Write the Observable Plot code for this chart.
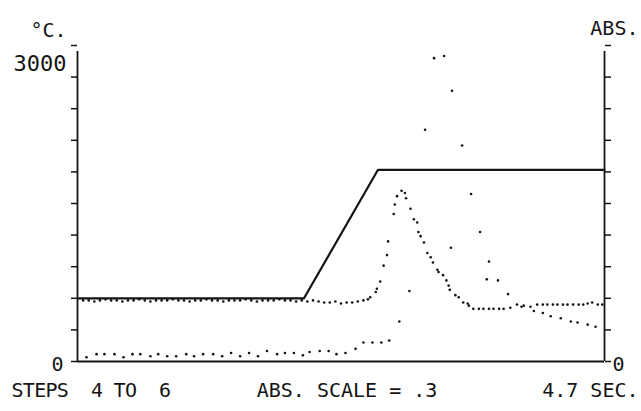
<!DOCTYPE html>
<html><head><meta charset="utf-8">
<script src="https://cdn.jsdelivr.net/npm/d3@7"></script>
<script src="https://cdn.jsdelivr.net/npm/@observablehq/plot@0.6"></script>
<style>
html,body{margin:0;padding:0;background:#fff;}
svg text{white-space:pre;}
</style></head><body><div id="chart"></div>
<script>
// ---- data ----
const timeDomain = [0, 4.7];          // seconds
const tempDomain = [0, 3000];         // °C (left axis)
const absDomain = [0, 0.3];           // absorbance (right axis)

const tempTicks = [0, 300, 600, 900, 1200, 1500, 1800, 2100, 2400, 2700, 3000];
const absTicks = [0, 0.03, 0.06, 0.09, 0.12, 0.15, 0.18, 0.21, 0.24, 0.27, 0.30];

// furnace temperature program (solid line)
const tempTime = [0, 2.02, 2.68, 4.7];
const tempC = [600, 600, 1820, 1820];

// absorbance signal A (dense dots)
const absATime = [0.05,0.10,0.15,0.20,0.25,0.30,0.35,0.40,0.45,0.50,0.55,0.60,0.65,0.70,0.75,0.80,0.85,0.90,0.95,1.00,
  1.05,1.10,1.15,1.20,1.25,1.30,1.35,1.40,1.45,1.50,1.55,1.60,1.65,1.70,1.75,1.80,1.85,1.90,1.95,2.00,
  2.05,2.10,2.15,2.20,2.25,2.30,2.35,2.40,2.45,2.50,2.55,
  2.59,2.61,2.66,2.67,2.70,2.73,2.76,2.77,2.82,2.83,2.85,2.89,2.92,2.93,2.97,3.00,3.03,3.04,3.06,3.09,
  3.12,3.15,3.17,3.21,3.22,3.26,3.29,3.31,3.32,3.37,3.40,3.44,3.48,3.49,3.53,3.58,3.62,3.67,3.71,3.76,
  3.80,3.86,3.92,3.98,4.04,4.10,4.15,4.19,4.24,4.28,4.33,4.37,4.42,4.47,4.51,4.55,4.59,4.64,4.68];
const absAValue = [0.058,0.058,0.057,0.058,0.059,0.058,0.058,0.057,0.058,0.058,0.059,0.058,0.057,0.058,0.058,0.058,0.059,0.058,0.058,0.057,
  0.058,0.058,0.059,0.058,0.058,0.057,0.058,0.058,0.058,0.059,0.058,0.057,0.058,0.058,0.058,0.059,0.058,0.058,0.057,0.058,
  0.057,0.058,0.057,0.056,0.056,0.057,0.055,0.056,0.056,0.057,0.058,
  0.059,0.061,0.066,0.069,0.076,0.091,0.101,0.114,0.140,0.149,0.157,0.162,0.160,0.155,0.145,0.135,0.132,0.123,0.119,0.113,
  0.103,0.099,0.094,0.087,0.085,0.082,0.077,0.072,0.068,0.063,0.061,0.056,0.055,0.053,0.050,0.050,0.050,0.050,0.050,0.050,
  0.050,0.051,0.054,0.053,0.052,0.054,0.054,0.054,0.054,0.054,0.054,0.054,0.054,0.054,0.054,0.055,0.056,0.054,0.054];

// absorbance signal B (sparse dots)
const absBTime = [0.08,0.17,0.24,0.33,0.41,0.49,0.56,0.65,0.72,0.80,0.88,0.97,1.04,1.12,1.21,1.29,1.37,1.45,1.53,1.61,
  1.69,1.78,1.85,1.93,2.01,2.07,2.16,2.24,2.31,2.39,2.48,2.55,2.63,2.71,2.78,2.87,2.96,3.10,3.18,3.27,
  3.33,3.34,3.43,3.51,3.59,3.65,3.67,3.75,3.84,3.96,4.07,4.15,4.22,4.31,4.40,4.46,4.55,4.62];
const absBValue = [0.004,0.007,0.007,0.007,0.004,0.007,0.007,0.005,0.007,0.005,0.005,0.007,0.005,0.007,0.007,0.005,0.008,0.005,0.008,0.005,
  0.010,0.007,0.008,0.008,0.006,0.009,0.010,0.010,0.007,0.008,0.012,0.018,0.018,0.018,0.020,0.038,0.067,0.220,0.288,0.290,
  0.108,0.257,0.205,0.159,0.123,0.078,0.095,0.077,0.064,0.052,0.048,0.046,0.043,0.041,0.038,0.037,0.035,0.033];

// texts
const unitLeft = ["°C."];
const unitRight = ["ABS."];
const topLabel = ["3000"];
const zeroLabel = ["0"];
const footLeft = ["STEPS  4 TO  6"];
const footMid = ["ABS. SCALE = .3"];
const footRight = ["4.7 SEC."];

// ---- build ----
const cPerAbs = (tempDomain[1] - tempDomain[0]) / (absDomain[1] - absDomain[0]);
const tempRows = tempTime.map((t, i) => ({t, c: tempC[i]}));
const aRows = absATime.map((t, i) => ({t, a: absAValue[i]}));
const bRows = absBTime.map((t, i) => ({t, a: absBValue[i]}));
const ink = "#141414";
const font = 20;
const tighten = (spacing) => (index, scales, values, dims, context, next) => {
  const g = next(index, scales, values, dims, context);
  g.setAttribute("letter-spacing", spacing);
  return g;
};

const chart = Plot.plot({
  width: 641, height: 411,
  marginLeft: 77, marginRight: 37, marginTop: 45, marginBottom: 50,
  style: {fontFamily: "'DejaVu Sans Mono', monospace", background: "#fff", color: ink, fontSize: font + "px"},
  x: {domain: timeDomain, axis: null, label: null},
  y: {domain: tempDomain, axis: null, label: null},
  marks: [
    Plot.axisY({anchor: "left", ticks: tempTicks, tickSize: 6, tickFormat: () => "", label: null, stroke: ink, strokeWidth: 1.5}),
    Plot.axisY({anchor: "right", ticks: absTicks.map(a => a * cPerAbs), tickSize: 6, tickFormat: () => "", label: null, stroke: ink, strokeWidth: 1.5}),
    Plot.ruleX([timeDomain[0]], {y1: tempDomain[0], y2: tempDomain[1], insetBottom: -6, stroke: ink, strokeWidth: 1.8}),
    Plot.ruleX([timeDomain[1]], {y1: tempDomain[0], y2: tempDomain[1], insetBottom: -6, stroke: ink, strokeWidth: 1.8}),
    Plot.ruleY([tempDomain[0]], {x1: timeDomain[0], x2: timeDomain[1], stroke: ink, strokeWidth: 1.8}),
    Plot.line(tempRows, {x: "t", y: "c", stroke: ink, strokeWidth: 2.2}),
    Plot.dot(aRows, {x: "t", y: d => d.a * cPerAbs, r: 1.3, fill: ink, stroke: null}),
    Plot.dot(bRows, {x: "t", y: d => d.a * cPerAbs, r: 1.3, fill: ink, stroke: null}),
    Plot.text(unitLeft, {frameAnchor: "top-left", dx: -47, dy: -23, textAnchor: "start", fill: ink}),
    Plot.text(unitRight, {frameAnchor: "top-right", dx: 34, dy: -25, textAnchor: "end", fill: ink}),
    Plot.text(topLabel, {fontSize: 22, frameAnchor: "top-left", dx: -11, dy: 10, textAnchor: "end", fill: ink}),
    Plot.text(zeroLabel, {frameAnchor: "bottom-left", dx: -14, dy: 9, textAnchor: "end", fill: ink}),
    Plot.text(zeroLabel, {frameAnchor: "bottom-right", dx: 8, dy: 9, textAnchor: "start", fill: ink}),
    Plot.text(footLeft, {frameAnchor: "bottom-left", dx: -66, dy: 35, textAnchor: "start", fill: ink, render: tighten("-0.7")}),
    Plot.text(footMid, {frameAnchor: "bottom", dx: 6, dy: 35, textAnchor: "middle", fill: ink}),
    Plot.text(footRight, {frameAnchor: "bottom-right", dx: 34, dy: 35, textAnchor: "end", fill: ink})
  ]
});
document.getElementById("chart").appendChild(chart);
</script></body></html>
